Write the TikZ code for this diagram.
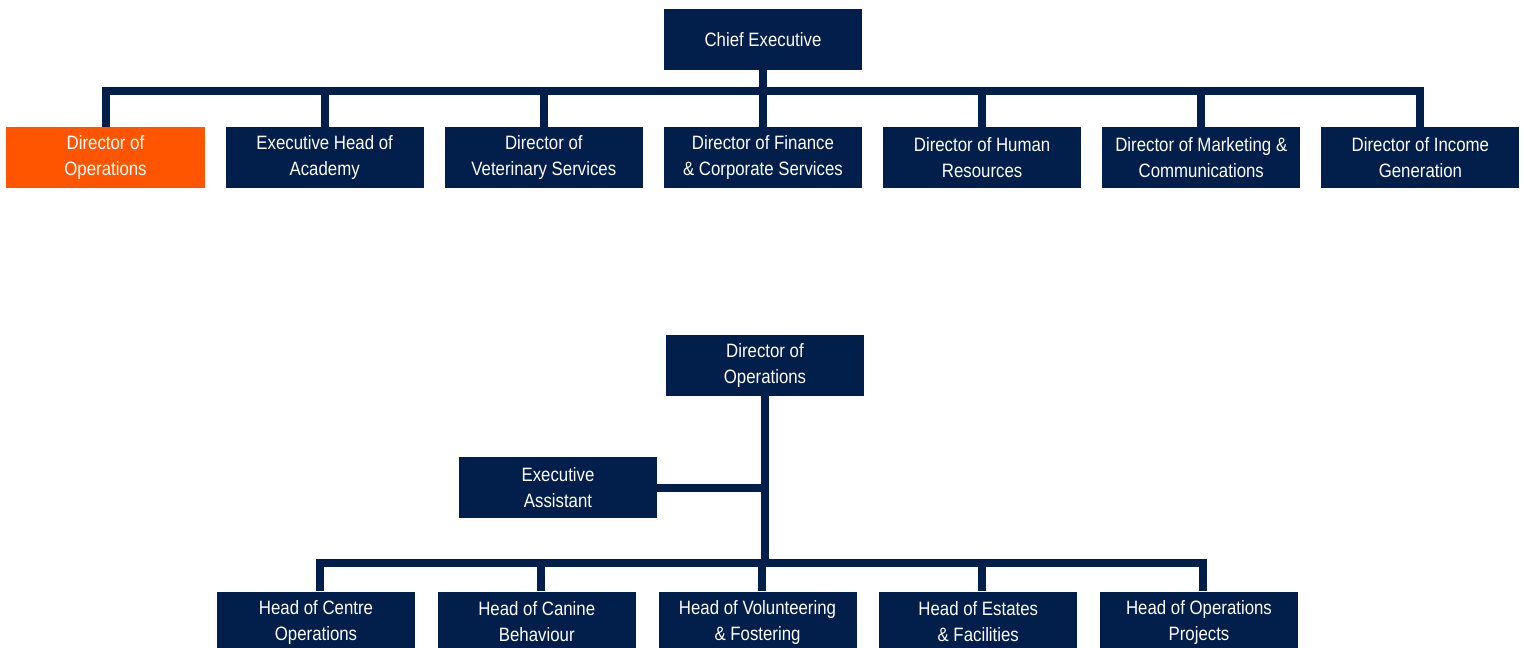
\documentclass[tikz,border=0pt]{standalone}
\usepackage{fontspec}
\setmainfont{Liberation Sans}[FakeStretch=0.87]
\usetikzlibrary{positioning}
\definecolor{navy}{HTML}{021E4B}
\definecolor{orangebox}{HTML}{FF5500}
\tikzset{post/.style={fill=navy, text=white, minimum width=3.96cm,
    minimum height=1.22cm, inner sep=0pt, align=center,
    font=\fontsize{11}{14.8}\selectfont},
  link/.style={draw=navy, line width=0.16cm}}

\begin{document}
\begin{tikzpicture}
    \useasboundingbox (0,0) rectangle (30.48,-12.96);
    % Top level
    \node[post] (ceo) at (15.26,-0.79) {Chief Executive};
    \node[post, fill=orangebox] (dir1) at (2.11,-3.15) {Director of\\Operations};
    \foreach \i/\txt in {2/{Executive Head of\\Academy},
        3/{Director of\\Veterinary Services},
        4/{Director of Finance\\\& Corporate Services},
        5/{Director of Human\\Resources},
        6/{Director of Marketing \&\\Communications},
        7/{Director of Income\\Generation}}
    \node[post] (dir\i) at ({2.11+4.383*(\i-1)},-3.15) {\txt};
    \foreach \i in {1,...,7}
    \draw[link] (ceo.south) -- ++(0,-0.42) -| (dir\i.north);
    % Operations
    \node[post] (dops) at (15.30,-7.31) {Director of\\Operations};
    \node[post] (ea) at (11.16,-9.75) {Executive\\Assistant};
    \foreach \i/\txt in {1/{Head of Centre\\Operations},
        2/{Head of Canine\\Behaviour},
        3/{Head of Volunteering\\\& Fostering},
        4/{Head of Estates\\\& Facilities},
        5/{Head of Operations\\Projects}}
    \node[post] (head\i) at ({6.32+4.415*(\i-1)},-12.44) {\txt};
    \draw[link] (ea.east) -- (ea.east -| dops.south);
    \foreach \i in {1,...,5}
    \draw[link] (dops.south) -- ++(0,-3.34) -| ([xshift=0.08cm]head\i.north);
\end{tikzpicture}
\end{document}
